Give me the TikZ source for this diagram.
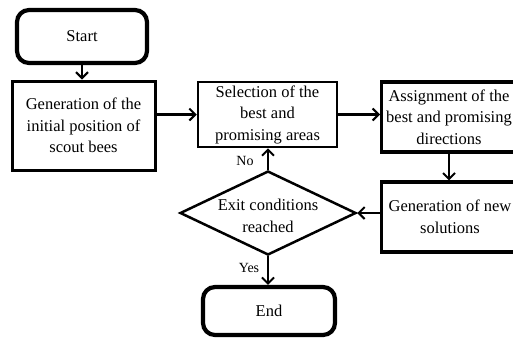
\documentclass[tikz,border=0pt]{standalone}
\usepackage{fontspec}
\setmainfont{Liberation Serif}
\newfontfamily\tnr{Liberation Serif}
\usetikzlibrary{shapes.geometric,arrows.meta}
\begin{document}
\begin{tikzpicture}[x=1pt,y=-1pt,
  box/.style={draw,rectangle,inner sep=0pt,align=center,font=\tnr\fontsize{16.5}{21.5}\selectfont},
  txt/.style={inner sep=0pt,align=center,font=\tnr\fontsize{16.5}{21.5}\selectfont},
  term/.style={draw,rectangle,rounded corners=12pt,line width=4.2pt,inner sep=0pt,font=\tnr\fontsize{16.5}{20}\selectfont},
  arr/.style={line width=2.3pt,-{Straight Barb[length=6pt,width=12pt,line width=2pt]}},
  lbl/.style={font=\tnr\fontsize{14}{16}\selectfont,inner sep=0pt}]
\begin{scope}
\clip (0,0) rectangle (513,338);
\fill[white] (0,0) rectangle (513,338);
\node[term,minimum width=130pt,minimum height=53pt] (start) at (82,36.5) {Start};
\node[box,line width=3pt,minimum width=143pt,minimum height=89pt] (gen) at (83.5,125.5)
  {Generation of the\\initial position of\\scout bees};
\node[box,line width=2.5pt,minimum width=139pt,minimum height=65pt] (sel) at (267.5,114.5)
  {Selection of the\\best and\\promising areas};
\node[box,line width=3.2pt,minimum width=170pt,minimum height=70pt,anchor=west] (asg) at (380,117) {};
\node[txt] (asgt) at (449,117) {Assignment of the\\best and promising\\directions};
\node[box,line width=3.2pt,minimum width=170pt,minimum height=70pt,anchor=west] (gnew) at (380,217) {};
\node[txt] (gnewt) at (450,217) {Generation of new\\solutions};
\node[draw,diamond,line width=2.5pt,inner sep=0pt,minimum width=176pt,minimum height=84pt] (dia) at (268,213) {};
\node[txt] (diat) at (268,216) {Exit conditions\\reached};
\node[term,minimum width=132pt,minimum height=48pt] (end) at (269,311) {End};
\draw[arr] (start.south) -- (start.south |- gen.north);
\draw[arr] (gen.east |- sel.west) -- (sel.west);
\draw[arr] (sel.east) -- (sel.east -| asg.west);
\draw[arr] (asgt.south |- asg.south) -- (asgt.south |- gnew.north);
\draw[arr] (gnew.west |- dia.east) -- (dia.east);
\draw[arr] (dia.north) -- (dia.north |- sel.south);
\draw[arr] (dia.south) -- (dia.south |- end.north);
\node[lbl] (no) at (245,161) {No};
\node[lbl] (yes) at (249,268) {Yes};
\end{scope}
\useasboundingbox (0,0) rectangle (513,338);
\end{tikzpicture}
\end{document}
